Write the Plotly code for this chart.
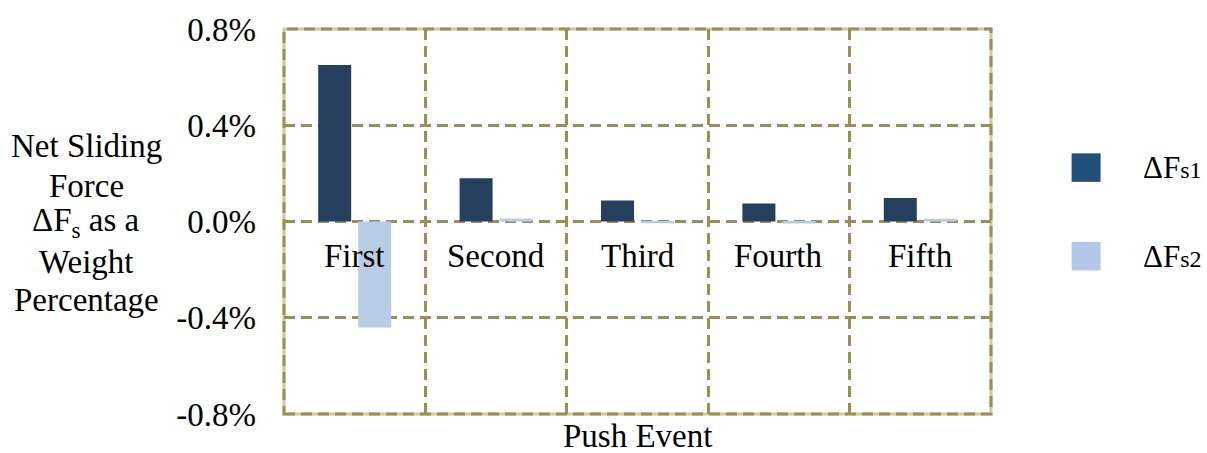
import plotly.graph_objects as go

# Push events and net sliding force per event (fraction of body weight)
events = ["First", "Second", "Third", "Fourth", "Fifth"]
dfs1 = [0.0065, 0.0018, 0.00087, 0.00075, 0.00098]
dfs2 = [-0.0044, 0.00012, -0.00007, -0.00008, 0.00011]

y_ticks = [-0.008, -0.004, 0.0, 0.004, 0.008]
y_tick_text = ["-0.8%", "-0.4%", "0.0%", "0.4%", "0.8%"]

y_title_lines = ["Net Sliding", "Force", "ΔF<sub>s</sub> as a", "Weight", "Percentage"]
x_title = "Push Event"

series_names = ["ΔF<span style='font-size:24px'>s1</span>",
                "ΔF<span style='font-size:24px'>s2</span>"]
bar_colors = ["#263f5f", "#b8cce4"]
key_colors = ["#224e7a", "#b4c7e7"]

FONT = "Times New Roman"
FS = 33
GRID = "#9c8e58"
FRAME = "#d2c8a0"
DASH = "11px,6px"

fig = go.Figure()
for name, vals, col in zip(series_names, [dfs1, dfs2], bar_colors):
    fig.add_trace(go.Bar(x=events, y=vals, name=name, marker_color=col,
                         marker_line_width=0, showlegend=False))

fig.update_layout(
    width=1207, height=453,
    margin=dict(l=284, r=216, t=26, b=39),
    paper_bgcolor="white", plot_bgcolor="white",
    barmode="group", bargap=0.434, bargroupgap=0.175,
    font=dict(family=FONT, size=FS, color="black"),
)

fig.update_xaxes(
    type="category", tickson="boundaries", showticklabels=False, ticks="",
    showgrid=True, gridcolor=GRID, gridwidth=3, griddash=DASH,
    showline=False, zeroline=False,
)
fig.update_yaxes(
    range=[-0.008, 0.008], tickvals=y_ticks, ticktext=y_tick_text,
    ticks="", ticklabelstandoff=27,
    showgrid=True, gridcolor=GRID, gridwidth=3, griddash=DASH,
    showline=False, zeroline=False,
    tickfont=dict(family=FONT, size=FS, color="black"),
)

# light solid frame with dashed grid colour over it
fig.add_shape(type="rect", xref="paper", yref="paper", x0=0, x1=1, y0=0, y1=1,
              line=dict(color=FRAME, width=3), layer="below")
fig.add_shape(type="rect", xref="paper", yref="paper", x0=0, x1=1, y0=0, y1=1,
              line=dict(color=GRID, width=3, dash=DASH), layer="above")

# event labels just under the zero line
for ev in events:
    fig.add_annotation(x=ev, y=0, xref="x", yref="y", text=ev, showarrow=False,
                       yanchor="top", yshift=-14,
                       font=dict(family=FONT, size=FS, color="black"))

# x axis title
fig.add_annotation(x=0.5, y=-0.058, xref="paper", yref="paper", text=x_title,
                   showarrow=False, yanchor="middle",
                   font=dict(family=FONT, size=FS, color="black"))

# y axis title, one line per annotation for tighter leading
title_y = [0.696, 0.593, 0.497, 0.395, 0.297]
for line, ty in zip(y_title_lines, title_y):
    fig.add_annotation(x=-0.28, y=ty, xref="paper", yref="paper", text=line,
                       showarrow=False, xanchor="center", yanchor="middle",
                       font=dict(family=FONT, size=FS, color="black"))

# series key on the right
key_y = [0.64, 0.41]
for name, col, ky in zip(series_names, key_colors, key_y):
    fig.add_shape(type="rect", xref="paper", yref="paper",
                  x0=1.114, x1=1.155, y0=ky - 0.037, y1=ky + 0.037,
                  fillcolor=col, line=dict(width=0))
    fig.add_annotation(x=1.212, y=ky, xref="paper", yref="paper", text=name,
                       showarrow=False, xanchor="left", yanchor="middle",
                       font=dict(family=FONT, size=31, color="black"))

fig.write_html("out.html")
